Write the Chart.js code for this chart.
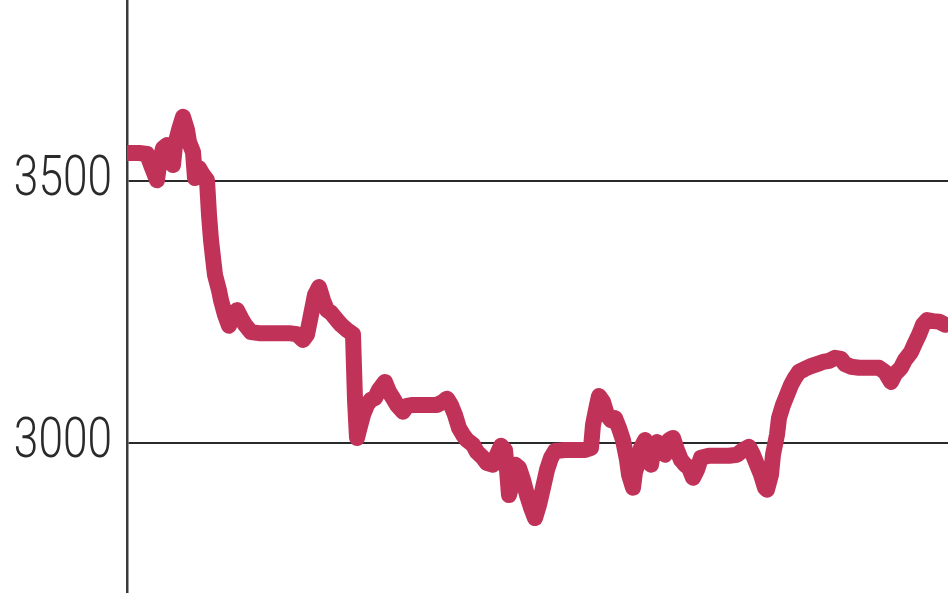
<!DOCTYPE html>
<html>
<head>
<meta charset="utf-8">
<script src="https://cdn.jsdelivr.net/npm/chart.js@4.4.1/dist/chart.umd.min.js"></script>
<style>
  html, body { margin: 0; padding: 0; background: #fff; }
  #wrap { width: 948px; height: 593px; }
</style>
</head>
<body>
<div id="wrap"><canvas id="chart" width="948" height="593"></canvas></div>
<script>
// trading day index and index level
const days = [
  1, 6, 10, 12, 15, 16, 18, 20, 21, 23, 24, 26, 28, 30, 31, 33, 34, 36, 38, 40,
  41, 42, 43, 44, 46, 47, 49, 51, 53, 55, 57, 59, 62, 66, 71, 76, 81, 85, 88, 90,
  92, 94, 96, 98, 100, 102, 105, 107, 110, 113, 114, 115, 116, 118, 120, 122, 124, 126, 129, 131,
  133, 135, 138, 140, 143, 147, 151, 155, 158, 160, 162, 164, 166, 168, 170, 173, 175, 178, 180, 183,
  185, 187, 189, 190, 191, 193, 194, 196, 198, 200, 202, 204, 206, 208, 210, 212, 214, 219, 224, 229,
  232, 233, 235, 236, 238, 240, 242, 244, 246, 248, 250, 251, 253, 254, 256, 257, 259, 260, 262, 263,
  265, 267, 269, 271, 273, 275, 277, 279, 281, 283, 285, 287, 291, 296, 301, 305, 308, 311, 313, 315,
  317, 319, 320, 322, 323, 325, 326, 328, 330, 332, 334, 336, 339, 342, 345, 348, 351, 354, 357, 359,
  362, 366, 371, 376, 379, 382, 384, 387, 389, 392, 394, 396, 398, 400, 403, 406, 409
];
const values = [
  3554, 3554, 3552, 3531, 3502, 3531, 3563, 3569, 3560, 3531, 3569, 3598, 3623, 3598, 3575, 3556, 3506, 3525, 3512, 3502,
  3436, 3388, 3354, 3321, 3292, 3273, 3245, 3224, 3245, 3254, 3239, 3226, 3212, 3210, 3210, 3210, 3210, 3208, 3197, 3207,
  3245, 3283, 3298, 3273, 3254, 3249, 3235, 3226, 3216, 3208, 3083, 3010, 3025, 3054, 3073, 3083, 3086, 3102, 3117, 3098,
  3086, 3073, 3060, 3071, 3073, 3073, 3073, 3073, 3079, 3085, 3073, 3054, 3029, 3016, 3006, 2997, 2983, 2972, 2962, 2959,
  2978, 2995, 2987, 2949, 2901, 2930, 2959, 2953, 2930, 2901, 2877, 2857, 2882, 2915, 2949, 2972, 2985, 2987, 2987, 2987,
  2991, 3035, 3073, 3090, 3079, 3054, 3044, 3048, 3029, 3006, 2968, 2940, 2915, 2945, 2968, 2991, 3006, 2978, 2959, 2983,
  3002, 2997, 2978, 3006, 3010, 2987, 2968, 2959, 2953, 2934, 2949, 2972, 2976, 2976, 2976, 2978, 2987, 2993, 2978, 2959,
  2940, 2915, 2911, 2940, 2978, 3016, 3048, 3073, 3092, 3111, 3125, 3136, 3142, 3147, 3151, 3155, 3157, 3163, 3161, 3151,
  3146, 3144, 3144, 3144, 3136, 3117, 3132, 3144, 3159, 3174, 3191, 3207, 3226, 3235, 3233, 3232, 3226
];
const yTicks = [3000, 3500];

const LABEL_PAD = 15;

// the tick labels in the original are a narrow face, squeeze them sideways
const narrowTicks = {
  id: 'narrowTicks',
  beforeDraw(chart) {
    const s = chart.scales.y;
    if (s._narrow) return;
    const orig = s.drawLabels;
    s._computeLabelArea = () => undefined; // no clipping, the squeeze would cut the first digit
    s.drawLabels = function (area) {
      const c = this.ctx;
      const ax = this.right - LABEL_PAD;
      c.save();
      c.translate(ax, 0);
      c.scale(0.79, 1);
      c.translate(-ax, 0);
      orig.call(this, area);
      c.restore();
    };
    s._narrow = true;
  },
};

const ctx = document.getElementById('chart').getContext('2d');
const points = days.map((d, i) => ({ x: d, y: values[i] }));

new Chart(ctx, {
  type: 'line',
  data: {
    datasets: [
      {
        data: points,
        borderColor: '#c13258',
        borderWidth: 16,
        borderJoinStyle: 'round',
        borderCapStyle: 'round',
        pointRadius: 0,
        tension: 0,
        fill: false,
      },
    ],
  },
  plugins: [narrowTicks],
  options: {
    responsive: false,
    animation: false,
    layout: { padding: 0 },
    plugins: {
      legend: { display: false },
      title: { display: false },
      tooltip: { enabled: false },
    },
    scales: {
      x: {
        type: 'linear',
        display: false,
        min: 0,
        max: 410.5,
      },
      y: {
        position: 'left',
        min: 2714,
        max: 3846,
        afterBuildTicks: (scale) => {
          scale.ticks = yTicks.map(v => ({ value: v }));
        },
        afterFit: (scale) => {
          scale.width = 127; // axis line sits at x=127
          scale.paddingTop = 0;
          scale.paddingBottom = 0;
        },
        border: {
          display: true,
          color: '#3a3a3a',
          width: 2.5,
        },
        grid: {
          color: '#2a2a2a',
          lineWidth: 2,
          drawTicks: false,
        },
        ticks: {
          padding: LABEL_PAD,
          color: '#2a2a2a',
          callback: (v) => String(v),
          font: {
            family: 'Roboto, "Liberation Sans", sans-serif',
            size: 56,
            weight: '300',
          },
        },
      },
    },
  },
});
</script>
</body>
</html>
